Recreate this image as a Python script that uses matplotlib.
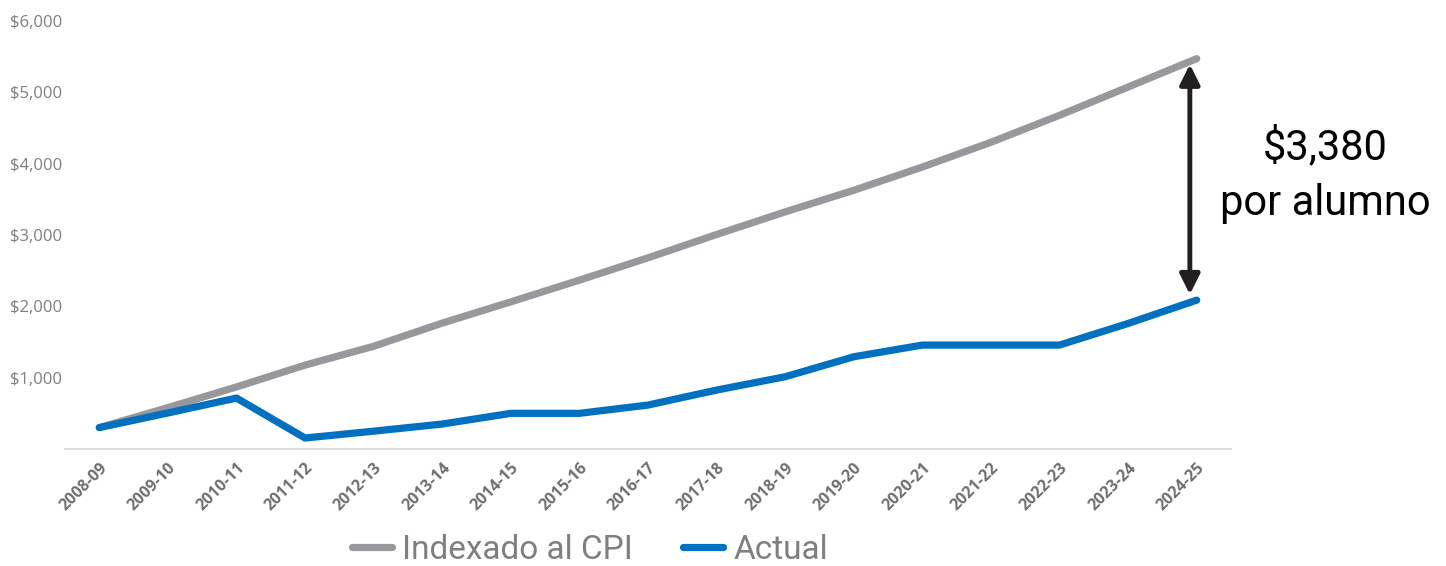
import numpy as np
import matplotlib.pyplot as plt

years = ['2008-09', '2009-10', '2010-11', '2011-12', '2012-13', '2013-14',
         '2014-15', '2015-16', '2016-17', '2017-18', '2018-19', '2019-20',
         '2020-21', '2021-22', '2022-23', '2023-24', '2024-25']
cpi = [300, 580, 870, 1176, 1440, 1765, 2063, 2367, 2680, 3007, 3324,
       3627, 3953, 4300, 4678, 5075, 5472]
actual = [300, 505, 714, 154, 250, 350, 500, 500, 616, 826, 1013, 1293,
          1457, 1457, 1457, 1760, 2087]
y_ticks = [1000, 2000, 3000, 4000, 5000, 6000]

fig = plt.figure(figsize=(14.46, 5.66), dpi=100)
ax = fig.add_axes([65 / 1446, 1 - 449 / 566, (1231 - 65) / 1446, (449 - 21) / 566])

x = np.arange(len(years))
ax.plot(x, cpi, color='#97989c', lw=5.2, solid_capstyle='round',
        label='Indexado al CPI')
ax.plot(x, actual, color='#0070c0', lw=5.2, solid_capstyle='round',
        label='Actual')

ax.set_xlim(-0.5, len(years) - 0.5)
ax.set_ylim(0, 6000)
ax.set_yticks(y_ticks)
ax.set_yticklabels(['${:,}'.format(v) for v in y_ticks],
                   fontsize=12, color='#7f7f7f', family='Open Sans')
ax.set_xticks(x)
ax.set_xticklabels(years, rotation=45, ha='right', rotation_mode='anchor',
                   fontsize=11.5, fontweight='bold', color='#6d6e71',
                   family='Open Sans')
ax.tick_params(axis='both', length=0)
ax.tick_params(axis='y', pad=2)
ax.tick_params(axis='x', pad=8)
for s in ['top', 'right', 'left']:
    ax.spines[s].set_visible(False)
ax.spines['bottom'].set_color('#d9d9d9')
ax.spines['bottom'].set_linewidth(1.2)

# gap arrow
last = len(years) - 1
ax.annotate('', xy=(last - 0.1, cpi[-1] - 80), xytext=(last - 0.1, actual[-1] + 80),
            arrowprops=dict(arrowstyle='<|-|>', color='#231f20', lw=3.5,
                            mutation_scale=30, shrinkA=0, shrinkB=0),
            annotation_clip=False)
fig.text(1325 / 1446, 1 - 147 / 566, '$3,380', fontsize=30, ha='center',
         va='center', family='Roboto', color='black')
fig.text(1325 / 1446, 1 - 203 / 566, 'por alumno', fontsize=30, ha='center',
         va='center', family='Roboto', color='black')

leg = fig.legend(loc='center', bbox_to_anchor=(590 / 1446, 1 - 550 / 566),
                 ncol=2, frameon=False, handlelength=1.2, handletextpad=0.3,
                 columnspacing=1.5, prop={'family': 'Roboto', 'size': 24})
for t in leg.get_texts():
    t.set_color('#7f7f7f')

fig.savefig('out.png', dpi=100)
